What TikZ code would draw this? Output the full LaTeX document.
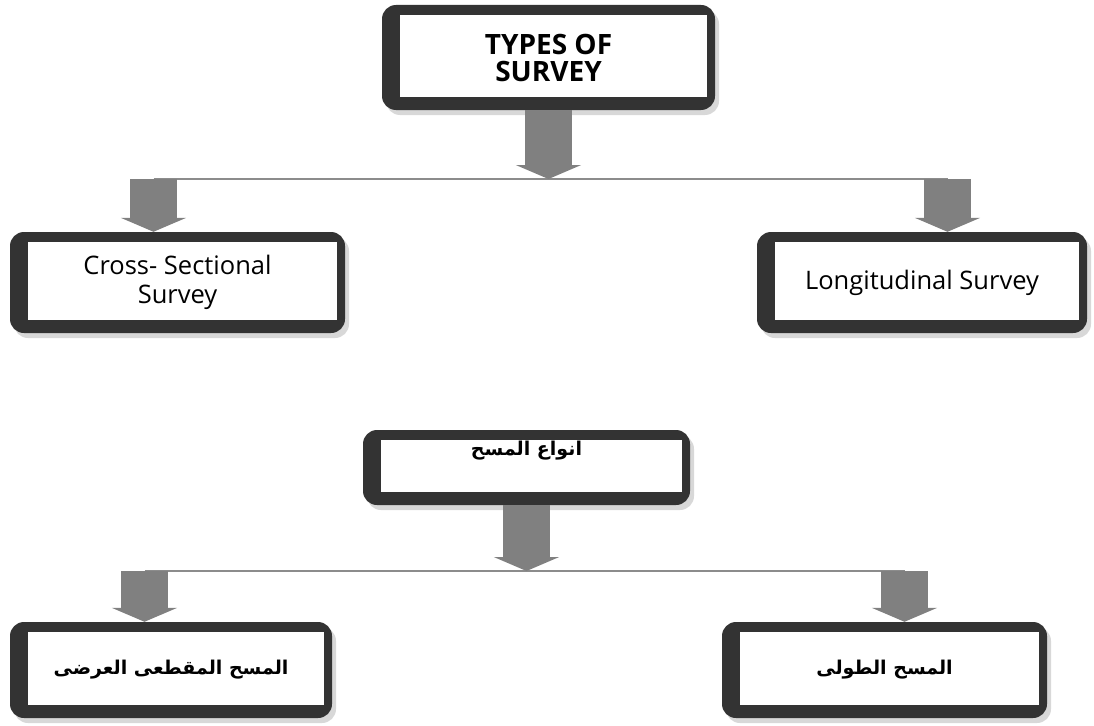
\documentclass[tikz,border=0pt]{standalone}
\usepackage{fontspec}
\setmainfont{Open Sans}
\newfontfamily\arabicfont[Script=Arabic]{DejaVu Sans}
\TeXXeTstate=1
\usepackage{xcolor}
\usetikzlibrary{shadows}
\usetikzlibrary{arrows.meta}
\definecolor{framegray}{HTML}{333333}
\definecolor{arrowgray}{HTML}{808080}
\definecolor{linegray}{HTML}{8C8C8C}

\begin{document}
\begin{tikzpicture}[x=1pt,y=-1pt,
    box/.style={rectangle, rounded corners=14pt, fill=framegray, inner sep=0pt, align=center,
      drop shadow={shadow xshift=4pt, shadow yshift=-5pt, opacity=.3},
      path picture={\fill[white, sharp corners] ([shift={(18pt,13pt)}]path picture bounding box.south west)
        rectangle ([shift={(-8pt,-10pt)}]path picture bounding box.north east);}},
    latin/.style={font=\fontsize{25.5}{29}\selectfont},
    arabic/.style={font=\arabicfont\bfseries\fontsize{19}{22}\selectfont},
    bigarrow/.style={draw=arrowgray, line width=47pt, -{Triangle[length=14pt,width=65pt]}},
    branch/.style={draw=linegray, line width=2pt}]
    \path[fill=white] (0,0) rectangle (1094,725);
    % english chart
    \node[box, minimum width=333pt, minimum height=105pt,
      font=\bfseries\fontsize{28}{27}\selectfont] (types) at (548.5,57.5) {TYPES OF\\SURVEY};
    \node[box, latin, minimum width=335pt, minimum height=101pt] (cross) at (177.5,282.5) {Cross- Sectional\\Survey};
    \node[box, latin, minimum width=330pt, minimum height=101pt] (longi) at (922,282.5) {Longitudinal Survey};
    \coordinate (leftA) at (153.5,179);
    \coordinate (rightA) at (947.5,179);
    \draw[branch] (leftA) -- (rightA);
    \draw[bigarrow] (types.south) -- (types.south |- leftA);
    \draw[bigarrow] (leftA) -- (leftA |- cross.north);
    \draw[bigarrow] (rightA) -- (rightA |- longi.north);
    % arabic chart
    \node[box, arabic, minimum width=327pt, minimum height=75pt, text height=14pt, text depth=39pt]
      (anwa) at (526.5,467.5) {\beginR انواع المسح\endR};
    \node[box, arabic, minimum width=322pt, minimum height=96pt] (cut) at (171,670) {\beginR المسح المقطعى العرضى\endR};
    \node[box, arabic, minimum width=325pt, minimum height=96pt] (tul) at (884.5,670) {\beginR المسح الطولى\endR};
    \coordinate (leftB) at (144.5,571);
    \coordinate (rightB) at (904.5,571);
    \draw[branch] (leftB) -- (rightB);
    \draw[bigarrow] (anwa.south) -- (anwa.south |- leftB);
    \draw[bigarrow] (leftB) -- (leftB |- cut.north);
    \draw[bigarrow] (rightB) -- (rightB |- tul.north);
\end{tikzpicture}
\end{document}
